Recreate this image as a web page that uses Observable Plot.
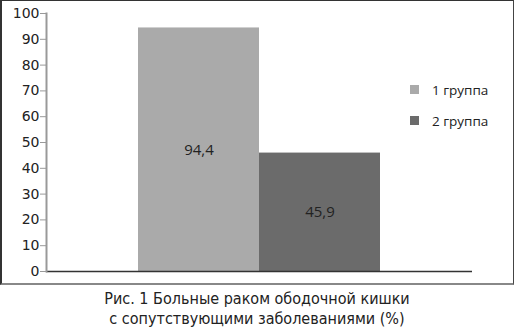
<!DOCTYPE html>
<html><head><meta charset="utf-8">
<script src="https://cdn.jsdelivr.net/npm/d3@7"></script>
<script src="https://cdn.jsdelivr.net/npm/@observablehq/plot@0.6"></script>
<style>
body{margin:0;background:#fff;}
#wrap{position:relative;width:514px;height:329px;}
#box{position:absolute;left:0;top:0;width:511px;height:282px;border-left:2px solid #333;border-top:1px solid #333;border-right:1px solid #444;border-bottom:2px solid #888;}
#legend{position:absolute;left:410px;top:74px;font:13.5px "Open Sans",sans-serif;color:#222;}
#legend div{display:flex;align-items:center;height:31px;}
#legend span.sw{display:inline-block;width:9px;height:9px;margin-right:13px;}
#cap{position:absolute;left:0;top:289px;width:514px;text-align:center;font:16px "DejaVu Sans Condensed",sans-serif;color:#222;line-height:20px;}
</style></head>
<body><div id="wrap"><div id="box"></div><div id="legend"></div><div id="cap"></div></div>
<script>
const groups = ["1 группа", "2 группа"];
const values = [94.4, 45.9];
const labels = ["94,4", "45,9"];
const colors = ["#aaaaaa", "#6b6b6b"];
const yTicks = [0,10,20,30,40,50,60,70,80,90,100];
const caption = ["Рис. 1 Больные раком ободочной кишки", "с сопутствующими заболеваниями (%)"];

const data = groups.map((g,i)=>({g, v: values[i], label: labels[i]}));

const chart = Plot.plot({
  width: 511, height: 282,
  marginLeft: 44, marginRight: 41, marginTop: 12, marginBottom: 12,
  style: {fontFamily: "DejaVu Sans", fontSize: "14px", color: "#222", background: "transparent"},
  x: {domain: groups, range: [135, 378], padding: 0, axis: null},
  y: {domain: [0, 100]},
  color: {domain: groups, range: colors},
  marks: [
    Plot.barY(data, {x: "g", y: "v", fill: "g"}),
    Plot.text(data, {x: "g", y: d => d.v/2, text: "label", fill: "#222", fontSize: 15, fontFamily: "Open Sans"}),
    Plot.ruleY([0], {stroke: "#333", strokeWidth: 1.5}),
    Plot.frame({anchor: "left", stroke: "#999", strokeWidth: 2}),
    Plot.axisY({ticks: yTicks, tickSize: 6, tickPadding: 1, label: null, stroke: "#999", fill: "#222", fontSize: 14})
  ]
});
chart.style.position = "absolute";
chart.style.left = "2px";
chart.style.top = "1px";
document.getElementById("wrap").appendChild(chart);

const lg = document.getElementById("legend");
groups.forEach((g,i)=>{
  const d = document.createElement("div");
  d.innerHTML = `<span class="sw" style="background:${colors[i]}"></span>${g}`;
  lg.appendChild(d);
});
document.getElementById("cap").innerHTML = caption.join("<br>");
</script></body></html>
